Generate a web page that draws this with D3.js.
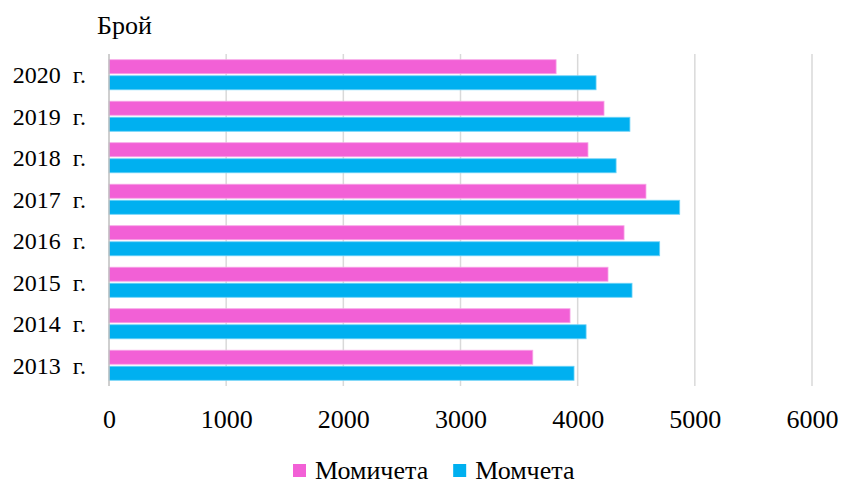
<!DOCTYPE html>
<html>
<head>
<meta charset="utf-8">
<script src="https://cdn.jsdelivr.net/npm/d3@7"></script>
<style>
  body { margin: 0; background: #fff; }
  svg text { font-family: "Liberation Serif", Tinos, "Times New Roman", serif; fill: #000; }
</style>
</head>
<body>
<svg id="chart" width="841" height="484"></svg>
<script>
// data
var years = ["2020", "2019", "2018", "2017", "2016", "2015", "2014", "2013"];
var girls = [3816, 4225, 4088, 4583, 4396, 4259, 3935, 3617];   // Момичета
var boys = [4157, 4446, 4328, 4871, 4700, 4464, 4072, 3969];    // Момчета
var seriesNames = ["Момичета", "Момчета"];
var seriesColors = ["#F260D6", "#00B0F0"];
var seriesStroke = ["#F7A6E7", "#6FD3F7"];
var xTicks = [0, 1000, 2000, 3000, 4000, 5000, 6000];

var svg = d3.select("#chart");
var plotLeft = 109, plotRight = 812, plotTop = 54, plotBottom = 386;
var fontSize = 26;
var serif = "'Liberation Serif', Tinos, 'Times New Roman', serif";

var xScale = d3.scaleLinear().domain([0, 6000]).range([plotLeft, plotRight]);
var yScale = d3.scaleBand().domain(years).range([plotTop, plotBottom])
    .paddingInner(0.275).paddingOuter(0.1375);
var inner = d3.scaleBand().domain([0, 1]).range([0, yScale.bandwidth()]).paddingInner(0.125);

// gridlines
svg.append("g")
    .selectAll("line")
    .data(xTicks.slice(1))
    .enter()
    .append("line")
    .attr("x1", function (d) { return xScale(d); })
    .attr("x2", function (d) { return xScale(d); })
    .attr("y1", plotTop)
    .attr("y2", plotBottom)
    .attr("stroke", "#d9d9d9")
    .attr("stroke-width", 1.5);

// bars
var rows = years.map(function (y, i) {
    return { year: y, vals: [girls[i], boys[i]] };
});

var groups = svg.append("g")
    .selectAll("g")
    .data(rows)
    .enter()
    .append("g")
    .attr("transform", function (d) { return "translate(0," + yScale(d.year) + ")"; });

groups.selectAll("rect")
    .data(function (d) { return d.vals; })
    .enter()
    .append("rect")
    .attr("x", xScale(0))
    .attr("y", function (d, i) { return inner(i); })
    .attr("width", function (d) { return xScale(d) - xScale(0); })
    .attr("height", inner.bandwidth())
    .attr("fill", function (d, i) { return seriesColors[i]; })
    .attr("stroke", function (d, i) { return seriesStroke[i]; })
    .attr("stroke-width", 0.8);

// vertical axis line
svg.append("line")
    .attr("x1", plotLeft).attr("x2", plotLeft)
    .attr("y1", plotTop).attr("y2", plotBottom)
    .attr("stroke", "#bfbfbf")
    .attr("stroke-width", 1.5);

// y labels
svg.append("g")
    .selectAll("text")
    .data(years)
    .enter()
    .append("text")
    .attr("x", 86)
    .attr("y", function (d) { return yScale(d) + yScale.bandwidth() / 2; })
    .attr("dy", "0.35em")
    .attr("text-anchor", "end")
    .attr("font-size", 24)
    .style("font-family", serif)
    .style("white-space", "pre")
    .text(function (d) { return d + "  г."; });

// x tick labels
var xAxis = d3.axisBottom(xScale).tickValues(xTicks).tickFormat(d3.format("d"))
    .tickSize(0).tickPadding(0);
var gx = svg.append("g")
    .attr("transform", "translate(0,410)")
    .call(xAxis);
gx.select(".domain").remove();
gx.attr("font-family", null);
gx.selectAll("text")
    .attr("font-size", fontSize)
    .style("font-family", serif)
    .attr("fill", "#000")
    .attr("dy", "0.71em");

// axis title
svg.append("text")
    .attr("x", 97)
    .attr("y", 34)
    .attr("font-size", fontSize)
    .style("font-family", serif)
    .text("Брой");

// legend
var legend = svg.append("g");
var lx = 293;
seriesNames.forEach(function (name, i) {
    legend.append("rect")
        .attr("x", lx).attr("y", 464)
        .attr("width", 13).attr("height", 13)
        .attr("fill", seriesColors[i]);
    var t = legend.append("text")
        .attr("x", lx + 22)
        .attr("y", 479)
        .attr("font-size", fontSize)
        .style("font-family", serif)
        .text(name);
    lx += 22 + t.node().getComputedTextLength() + 25;
});
</script>
</body>
</html>
